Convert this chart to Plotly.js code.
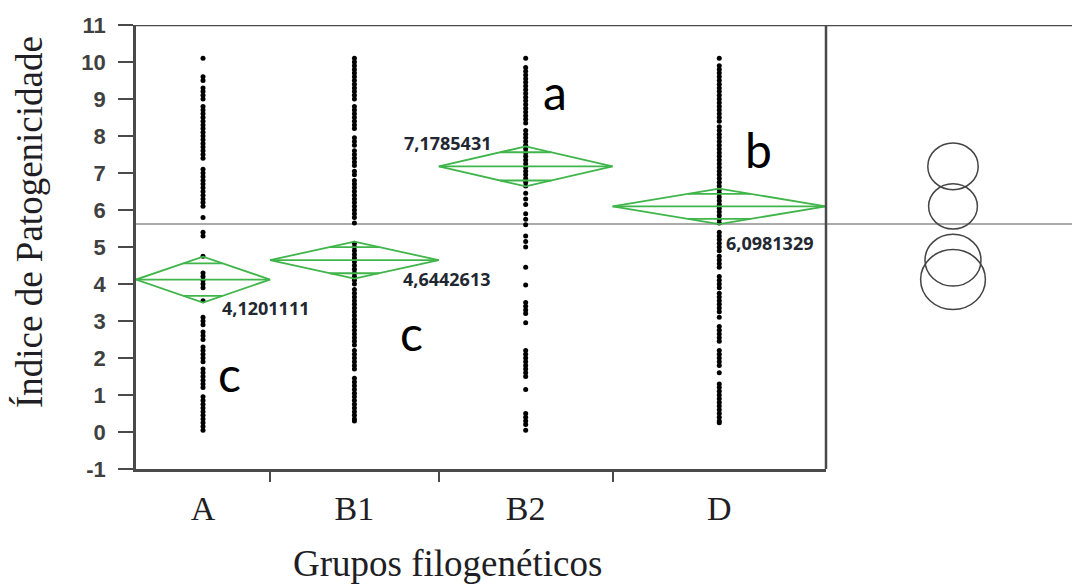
<!DOCTYPE html>
<html>
<head>
<meta charset="utf-8">
<script src="https://cdn.plot.ly/plotly-3.0.1.min.js"></script>
<style>html,body{margin:0;padding:0;background:#fff;}#chart{width:1072px;height:585px;}</style>
</head>
<body>
<div id="chart"></div>
<script>
// ---- data ----
const groups = ['A', 'B1', 'B2', 'D'];
const groupN = [27, 34, 35, 43];
const means = [4.1201111, 4.6442613, 7.1785431, 6.0981329];
const meanLabels = ['4,1201111', '4,6442613', '7,1785431', '6,0981329'];
const ciHalf = [0.62, 0.50, 0.54, 0.48];
const circleRadius = [0.81, 0.70, 0.63, 0.61];
const grandMean = 5.62;
const letters = ['c', 'c', 'a', 'b'];
const yTicks = [-1, 0, 1, 2, 3, 4, 5, 6, 7, 8, 9, 10, 11];
const yTickText = ['-1', '0', '1', '2', '3', '4', '5', '6', '7', '8', '9', '10', '11'];

const valuesA = [10.1, 9.6, 9.5, 9.3, 9.2, 9.1, 9.0, 8.8, 8.7, 8.6, 8.5, 8.4, 8.3, 8.2, 8.1, 8.0, 7.9, 7.8, 7.7, 7.6, 7.5, 7.4,
  7.1, 7.0, 6.9, 6.8, 6.7, 6.6, 6.5, 6.4, 6.3, 6.2, 6.1, 5.8, 5.4, 5.3, 4.75, 4.3, 4.2, 4.1, 4.0, 3.9, 3.55,
  3.1, 3.0, 2.9, 2.7, 2.6, 2.5, 2.3, 2.2, 2.1, 2.0, 1.9, 1.7, 1.6, 1.5, 1.4, 1.3, 1.2,
  0.95, 0.85, 0.75, 0.65, 0.55, 0.45, 0.35, 0.25, 0.15, 0.05];
const valuesB1 = [10.1, 10.0, 9.9, 9.8, 9.7, 9.6, 9.5, 9.4, 9.3, 9.2, 9.1, 9.0, 8.8, 8.7, 8.6, 8.5, 8.4, 8.3, 8.2,
  7.95, 7.85, 7.75, 7.6, 7.5, 7.4, 7.3, 7.2, 7.05, 6.95, 6.8, 6.7, 6.6, 6.5, 6.4, 6.3, 6.2, 6.1, 6.0, 5.9, 5.8, 5.65,
  5.1, 5.0, 4.9, 4.8, 4.7, 4.6, 4.5, 4.4, 4.3, 4.2, 4.1, 4.0, 3.85, 3.75, 3.65, 3.55, 3.45, 3.35, 3.25, 3.15, 3.05,
  2.95, 2.85, 2.75, 2.65, 2.55, 2.45, 2.35, 2.2, 2.1, 2.0, 1.9, 1.8, 1.7,
  1.45, 1.35, 1.25, 1.15, 1.05, 0.95, 0.85, 0.75, 0.65, 0.55, 0.45, 0.35, 0.3];
const valuesB2 = [10.1, 9.85, 9.75, 9.65, 9.55, 9.45, 9.35, 9.25, 9.15, 9.05, 8.95, 8.85, 8.75, 8.65, 8.55, 8.45, 8.35,
  8.15, 8.05, 7.95, 7.85, 7.75, 7.65, 7.55, 7.45, 7.35, 7.25, 7.15, 7.05, 6.95, 6.85, 6.75, 6.65,
  6.45, 6.3, 6.15, 5.9, 5.75, 5.6, 5.3, 5.15, 5.0, 4.45, 3.97, 3.5, 3.4, 3.3, 3.2, 2.95,
  2.2, 2.1, 2.0, 1.9, 1.8, 1.7, 1.6, 1.5, 1.15, 0.5, 0.4, 0.3, 0.2, 0.05];
const valuesD = [10.1, 9.9, 9.8, 9.7, 9.6, 9.5, 9.4, 9.3, 9.2, 9.1, 9.0, 8.9, 8.8, 8.7, 8.6, 8.5, 8.4,
  8.25, 8.15, 8.05, 7.95, 7.85, 7.75, 7.65, 7.55, 7.45, 7.35, 7.25, 7.15, 7.05, 6.95, 6.85, 6.75, 6.65,
  6.55, 6.45, 6.35, 6.25, 6.15, 6.05, 5.95, 5.85, 5.75, 5.65, 5.4, 5.3, 5.2, 5.1, 5.0, 4.9,
  4.75, 4.65, 4.55, 4.45, 4.2, 4.1, 4.0, 3.9, 3.75, 3.65, 3.55, 3.45, 3.35, 3.25, 3.1,
  2.85, 2.75, 2.65, 2.55, 2.45, 2.2, 2.1, 2.0, 1.9, 1.8, 1.6,
  1.3, 1.2, 1.1, 1.0, 0.9, 0.8, 0.7, 0.6, 0.5, 0.4, 0.3, 0.25];
const groupValues = [valuesA, valuesB1, valuesB2, valuesD];

// ---- derived geometry from data ----
const bounds = [0];
groupN.forEach(n => bounds.push(bounds[bounds.length - 1] + n));
const total = bounds[bounds.length - 1];
const centers = groupN.map((n, i) => bounds[i] + n / 2);

const GREEN = '#3fb54a';
const AXIS = '#4a4a4a';
const traces = [];

// dots
groupValues.forEach((vals, i) => {
  traces.push({
    type: 'scatter', mode: 'markers', xaxis: 'x', yaxis: 'y',
    x: vals.map(() => centers[i]), y: vals,
    marker: {color: '#000', size: 5, symbol: 'circle'},
    hoverinfo: 'skip', showlegend: false
  });
});

// mean diamonds
const k = Math.SQRT1_2;
groups.forEach((g, i) => {
  const l = bounds[i], r = bounds[i + 1], c = centers[i], m = means[i], h = ciHalf[i];
  const hw = (r - l) / 2;
  const xs = [l, c, r, c, l, null, l, r, null,
    c - (1 - k) * hw, c + (1 - k) * hw, null,
    c - (1 - k) * hw, c + (1 - k) * hw];
  const ys = [m, m + h, m, m - h, m, null, m, m, null,
    m + k * h, m + k * h, null,
    m - k * h, m - k * h];
  traces.push({
    type: 'scatter', mode: 'lines', xaxis: 'x', yaxis: 'y',
    x: xs, y: ys, line: {color: GREEN, width: 1.8},
    hoverinfo: 'skip', showlegend: false
  });
});

// invisible trace for right panel axis
traces.push({type: 'scatter', mode: 'markers', xaxis: 'x2', yaxis: 'y', x: [0], y: [grandMean],
  marker: {opacity: 0}, hoverinfo: 'skip', showlegend: false});

const splitFrac = 690 / 936;
const x2Range = [0, 246 / 40];
const circleX = 127 / 40;

const shapes = [];
// comparison circles
means.forEach((m, i) => {
  const rr = circleRadius[i];
  shapes.push({type: 'circle', xref: 'x2', yref: 'y',
    x0: circleX - rr, x1: circleX + rr, y0: m - rr, y1: m + rr,
    line: {color: '#444', width: 1.5}, fillcolor: 'rgba(0,0,0,0)'});
});
// grand mean line
shapes.push({type: 'line', xref: 'paper', yref: 'y', x0: 0, x1: 1, y0: grandMean, y1: grandMean,
  line: {color: '#8f8f8f', width: 1.6}, layer: 'below'});
// frame: top and separator
shapes.push({type: 'line', xref: 'paper', yref: 'y', x0: 0, x1: 1, y0: 11, y1: 11, line: {color: AXIS, width: 2.5}});
shapes.push({type: 'line', xref: 'paper', yref: 'y', x0: splitFrac, x1: splitFrac, y0: -1, y1: 11, line: {color: AXIS, width: 2.5}});

const annotations = [];
const labelPos = [[16.9, 3.35], [53.3, 4.13], [53.5, 7.8], [118.4, 5.12]];
meanLabels.forEach((t, i) => {
  annotations.push({xref: 'x', yref: 'y', x: labelPos[i][0], y: labelPos[i][1], text: t,
    showarrow: false, xanchor: 'left', yanchor: 'middle',
    font: {family: 'Open Sans', size: 18, color: '#222831', weight: 'bold'}});
});
const letterPos = [[16.1, 1.59], [52.8, 2.68], [81.6, 9.21], [122.3, 7.64]];
letters.forEach((t, i) => {
  annotations.push({xref: 'x', yref: 'y', x: letterPos[i][0], y: letterPos[i][1], text: t,
    showarrow: false, xanchor: 'left', yanchor: 'middle',
    font: {family: 'Lato', size: 48, color: '#000'}});
});
// axis titles (placed precisely)
annotations.push({xref: 'paper', yref: 'paper', x: (447 - 136) / 936, y: -(563 - 469) / 444,
  text: 'Grupos filogenéticos', showarrow: false, xanchor: 'center', yanchor: 'middle',
  font: {family: 'Liberation Serif', size: 37, color: '#1e1e24'}});
annotations.push({xref: 'paper', yref: 'paper', x: (29 - 136) / 936, y: 1 - (222 - 25) / 444,
  text: 'Índice de Patogenicidade', textangle: -90, showarrow: false, xanchor: 'center', yanchor: 'middle',
  font: {family: 'Liberation Serif', size: 37, color: '#1e1e24'}});

const layout = {
  width: 1072, height: 585,
  margin: {l: 136, r: 0, t: 25, b: 116, pad: 0},
  paper_bgcolor: '#fff', plot_bgcolor: '#fff',
  showlegend: false,
  xaxis: {
    domain: [0, splitFrac], range: [0, total], anchor: 'y',
    tickmode: 'array', tickvals: centers, ticktext: groups, ticks: '',
    ticklabelstandoff: 8,
    tickfont: {family: 'Liberation Serif', size: 34, color: '#1e1e24'},
    showgrid: false, zeroline: false, showline: true, linecolor: AXIS, linewidth: 2.5,
    minor: {tickmode: 'array', tickvals: bounds.slice(1, -1), ticks: 'outside', ticklen: 10, tickwidth: 2, tickcolor: AXIS, showgrid: false}
  },
  xaxis2: {
    domain: [splitFrac, 1], range: x2Range, anchor: 'y',
    showgrid: false, zeroline: false, showline: false, showticklabels: false, ticks: ''
  },
  yaxis: {
    range: [-1, 11], tickmode: 'array', tickvals: yTicks, ticktext: yTickText,
    ticks: 'outside', ticklen: 15, tickwidth: 2.2, tickcolor: AXIS,
    ticklabelstandoff: 8,
    tickfont: {family: 'Liberation Sans', size: 22, color: '#404040', weight: 'bold'},
    showgrid: false, zeroline: false, showline: true, linecolor: AXIS, linewidth: 2.8
  },
  shapes: shapes,
  annotations: annotations
};

Plotly.newPlot('chart', traces, layout, {staticPlot: true, displayModeBar: false});
</script>
</body>
</html>
